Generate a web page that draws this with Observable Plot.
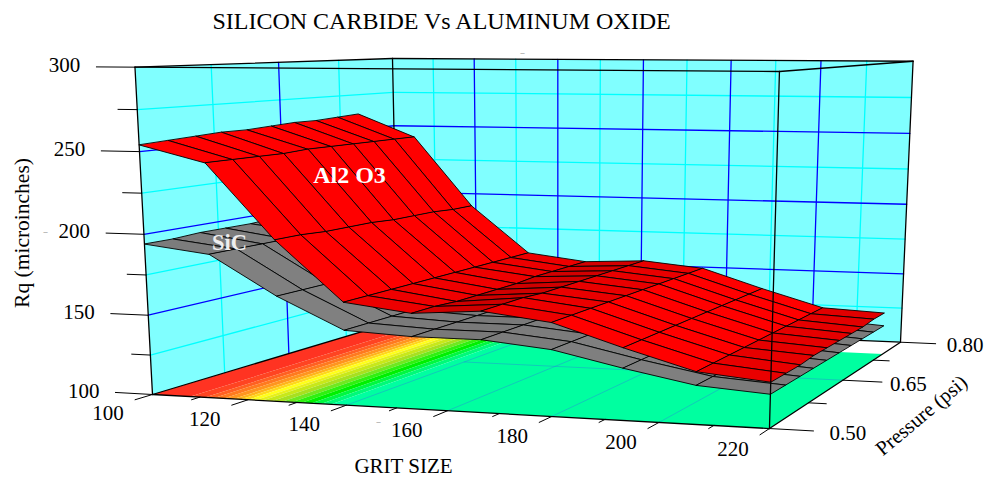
<!DOCTYPE html>
<html><head><meta charset="utf-8">
<style>html,body{margin:0;padding:0;background:#fff}svg{display:block}</style>
<script src="https://cdn.jsdelivr.net/npm/d3@7"></script>
<script src="https://cdn.jsdelivr.net/npm/@observablehq/plot@0.6"></script>
</head><body><div id="chart"></div>
<script>
const titleText = "SILICON CARBIDE Vs ALUMINUM OXIDE";
const gritSamples = [100,113.3,126.7,140,153.3,166.7,180,193.3,206.7,220];
const pressureSamples = [0.5,0.528,0.556,0.583,0.611,0.639,0.667,0.694,0.722,0.75];
const al2o3 = [
 [254,244,199,163,158,161,156,143,131,127],
 [255,244,199,163,158,161,156,143,131,127],
 [256,244,198,163,157,161,156,143,131,127],
 [257,244,198,163,157,160,156,143,131,128],
 [257,245,198,163,157,160,156,143,131,128],
 [258,245,197,163,157,160,156,143,131,128],
 [259,245,197,163,158,160,156,143,131,128],
 [259,245,197,163,158,160,156,143,131,128],
 [260,245,196,163,158,160,156,143,131,129],
 [261,245,196,163,158,160,156,143,131,129]];
const sic = [
 [194,189,165,146,144,144,140,131,123,120],
 [194,189,165,146,144,144,140,131,123,120],
 [195,189,165,146,144,144,140,131,123,120],
 [195,189,165,146,144,144,140,131,123,120],
 [195,190,165,146,144,144,140,131,123,120],
 [196,190,166,147,144,144,140,131,123,120],
 [196,190,166,147,144,144,140,131,123,120],
 [196,190,166,147,144,144,140,131,123,120],
 [197,190,166,147,144,144,140,131,123,120],
 [197,190,166,147,144,144,140,131,123,120]];
const floorGrit = [100,108,111,113,115,117,118.5,120,121.5,123,125,127,129,131,133,135,137,220];
const floorColor = ["#ff3322","#ff4422","#ff6022","#ff7a1f","#ff951f","#ffb41a","#ffd81a","#ffff1a","#e8f01a","#c8e81a","#a8e020","#70e820","#30f010","#00f000","#00f840","#00fa78","#00ffa0"];
const gritTicks = [100,110,120,130,140,150,160,170,180,190,200,210,220];
const gritLabels = [100,120,140,160,180,200,220];
const pressureTicks = [0.5,0.575,0.65,0.725,0.8];
const pressureLabels = [0.5,0.65,0.8];
const rqTicks = [100,125,150,175,200,225,250,275,300];
const rqLabels = [100,150,200,250,300];

// perspective camera: homogeneous columns for grit, pressure, Rq and origin
const cam = {u:[552.6,-1.8,-0.0837], v:[344.7,6.2,0.2496], w:[-23.1,-330.1,-0.0414], o:[152,394,1]};
const U = d3.scaleLinear([100,220],[0,1]), V = d3.scaleLinear([0.5,0.8],[0,1]), W = d3.scaleLinear([100,300],[0,1]);
function project(g,p,r){
  const u=U(g),v=V(p),w=W(r), c=k=>cam.o[k]+u*cam.u[k]+v*cam.v[k]+w*cam.w[k];
  return {x:c(0)/c(2), y:c(1)/c(2)};
}
const gMin=100,gMax=220,pMin=0.5,pMax=0.8,rMin=100,rMax=300,pFloor=0.75;

let nid=0;
function poly(points,fill){const id=nid++;return points.map(a=>({...project(...a),id,fill}));}
function seg(a,b){const id=nid++;return [a,b].map(q=>({...project(...q),id}));}

const walls=[
  ...poly([[gMin,pMin,rMin],[gMin,pMax,rMin],[gMin,pMax,rMax],[gMin,pMin,rMax]],"#80ffff"),
  ...poly([[gMin,pMax,rMin],[gMax,pMax,rMin],[gMax,pMax,rMax],[gMin,pMax,rMax]],"#80ffff")];

const gridMajor=[],gridMinor=[];
rqTicks.slice(1,-1).forEach((r,i)=>{
  const t=i%2===0?gridMinor:gridMajor;
  t.push(...seg([gMin,pMin,r],[gMin,pMax,r]),...seg([gMin,pMax,r],[gMax,pMax,r]));
});
gritTicks.slice(1,-1).forEach((g,i)=>{
  (i%2===0?gridMinor:gridMajor).push(...seg([g,pMax,rMin],[g,pMax,rMax]));
});
pressureTicks.slice(1,-1).forEach((p,i)=>{
  (i%2===0?gridMinor:gridMajor).push(...seg([gMin,p,rMin],[gMin,p,rMax]));
});

const floorBands=floorColor.flatMap((c,i)=>poly([[floorGrit[i],pMin,rMin],[floorGrit[i+1],pMin,rMin],[floorGrit[i+1],pFloor,rMin],[floorGrit[i],pFloor,rMin]],c));
const floorFaint=[...gritLabels.slice(2,-1).flatMap(g=>seg([g,pMin,rMin],[g,pFloor,rMin])),
  ...seg([140,0.65,rMin],[gMax,0.65,rMin])];

function surface(rows,shade){
  const out=[];
  for(let j=rows.length-2;j>=0;j--) for(let i=0;i<gritSamples.length-1;i++){
    const drop=(rows[j][i]+rows[j+1][i]-rows[j][i+1]-rows[j+1][i+1])/2;
    out.push(...poly([
      [gritSamples[i],pressureSamples[j],rows[j][i]],
      [gritSamples[i+1],pressureSamples[j],rows[j][i+1]],
      [gritSamples[i+1],pressureSamples[j+1],rows[j+1][i+1]],
      [gritSamples[i],pressureSamples[j+1],rows[j+1][i]]],shade(drop)));
  }
  return out;
}
const lit=d=>Math.max(0,Math.min(1,(218+3.7*d)/255));
const redQuads=surface(al2o3,d=>d3.rgb(255*lit(d),0,0).formatHex());
const greyQuads=surface(sic,d=>{const g=128*(0.6+0.4*lit(d));return d3.rgb(g,g,g).formatHex();});

const boxBack=[
  ...seg([gMin,pMax,rMin],[gMin,pMax,rMax]),
  ...seg([gMin,pMin,rMin],[gMin,pMax,rMin]),
  ...seg([gMin,pMax,rMin],[gMax,pMax,rMin]),
  ...seg([gMin,pMin,rMax],[gMin,pMax,rMax]),
  ...seg([gMin,pMax,rMax],[gMax,pMax,rMax]),
  ...seg([gMin,pMin,rMin],[gMin,pMin,rMax]),
  ...seg([gMax,pMax,rMin],[gMax,pMax,rMax])];
const boxFront=[
  ...seg([gMin,pMin,rMax],[gMax,pMin,rMax]),
  ...seg([gMax,pMin,rMax],[gMax,pMax,rMax]),
  ...seg([gMax,pMin,rMin],[gMax,pMin,rMax]),
  ...seg([gMin,pMin,rMin],[gMax,pMin,rMin]),
  ...seg([gMax,pMin,rMin],[gMax,pMax,rMin])];

// ticks extend outward from the box along the grit or pressure direction
const gU=d3.scaleLinear([0,1],[100,220]), pV=d3.scaleLinear([0,1],[0.5,0.8]);
const rqStub=r=>gU(rqLabels.includes(r)?-0.066:-0.033);
const gritStub=g=>pV(gritLabels.includes(g)?-0.056:-0.028);
const pressStub=p=>gU(1+(pressureLabels.includes(p)?0.065:0.028));
const ticks=[
  ...rqTicks.flatMap(r=>seg([gMin,pMin,r],[rqStub(r),pMin,r])),
  ...gritTicks.flatMap(g=>seg([g,pMin,rMin],[g,gritStub(g),rMin])),
  ...pressureTicks.flatMap(p=>seg([gMax,p,rMin],[pressStub(p),p,rMin]))];

const rqText=rqLabels.map(r=>({...project(rqStub(r),pMin,r),t:String(r)}));
const gritText=gritLabels.map(g=>({...project(g,gritStub(g),rMin),t:String(g)}));
const pressNudge=[4,-4,-1];
const pressText=pressureLabels.map((p,i)=>{const q=project(pressStub(p),p,rMin);return {x:q.x+pressNudge[i],y:q.y,t:p.toFixed(2)};});

const serif="Liberation Serif";
const lineOpts=(stroke,sw,extra={})=>({x:"x",y:"y",z:"id",stroke,strokeWidth:sw,...extra});
const polyOpts=(stroke,sw)=>({x:"x",y:"y",z:"id",fill:"fill",stroke,strokeWidth:sw,curve:"linear-closed"});

const plot=Plot.plot({
  width:986,height:479,margin:0,
  x:{domain:[0,986],range:[0,986],axis:null},
  y:{domain:[0,479],range:[0,479],axis:null},
  color:{type:"identity"},
  marks:[
    Plot.line(walls,polyOpts("none",0)),
    Plot.line(gridMinor,lineOpts("#00ffff",1.3)),
    Plot.line(gridMajor,lineOpts("#0000ff",1.3)),
    Plot.line(floorBands,polyOpts("none",0)),
    Plot.line(floorFaint,lineOpts("#2a80e0",0.7,{strokeOpacity:0.6})),
    Plot.line(boxBack,lineOpts("black",1.3)),
    Plot.line(greyQuads,polyOpts("black",0.9)),
    Plot.line(redQuads,polyOpts("black",0.9)),
    Plot.line(boxFront,lineOpts("black",1.3)),
    Plot.line(ticks,lineOpts("black",1)),
    Plot.text(rqText,{x:"x",y:"y",text:"t",textAnchor:"end",dx:-16,dy:-1.5,fontSize:21,fontFamily:serif,fill:"black"}),
    Plot.text(gritText,{x:"x",y:"y",text:"t",dx:-27,dy:14,fontSize:21,fontFamily:serif,fill:"black"}),
    Plot.text(pressText,{x:"x",y:"y",text:"t",textAnchor:"start",dx:12,dy:2,fontSize:21,fontFamily:serif,fill:"black"}),
    Plot.text([titleText],{x:()=>441,y:()=>21,text:d=>d,fontSize:24,fontFamily:serif,fill:"black"}),
    Plot.text(["GRIT SIZE"],{x:()=>403,y:()=>465.5,text:d=>d,fontSize:21,fontFamily:serif,fill:"black"}),
    Plot.text(["Rq (microinches)"],{x:()=>22,y:()=>232.5,text:d=>d,rotate:-90,fontSize:21.5,fontFamily:serif,fill:"black"}),
    Plot.text(["Pressure (psi)"],{x:()=>921,y:()=>415,text:d=>d,rotate:-40,fontSize:20.5,fontFamily:serif,fill:"black"}),
    Plot.text(["Al2 O3"],{x:()=>349,y:()=>175,text:d=>d,fontSize:24,fontWeight:"bold",fontFamily:serif,fill:"white"}),
    Plot.text(["SiC"],{x:()=>229,y:()=>242,text:d=>d,fontSize:22.5,fontWeight:"bold",fontFamily:serif,fill:"#eeeeee"}),
    Plot.text(["\u2013","\u2013","\u2013"],{x:(d,i)=>[522,45,378][i],y:(d,i)=>[52,231,421][i],text:d=>d,fontSize:8,fontFamily:serif,fill:"#666"})
  ]
});
document.getElementById("chart").append(plot);
</script></body></html>
